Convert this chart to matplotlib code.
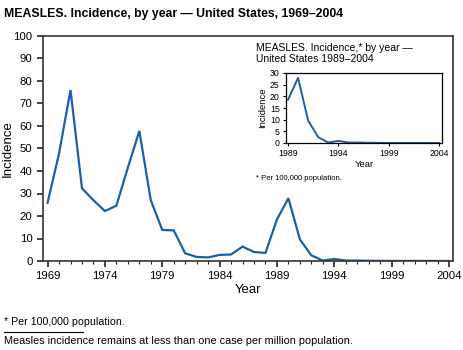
import matplotlib
matplotlib.use("Agg")
import matplotlib.pyplot as plt
from matplotlib.ticker import MultipleLocator

plt.rcParams['font.family'] = ['Liberation Sans', 'DejaVu Sans']

# data (incidence per 100,000)
years = list(range(1969, 2005))
incidence = [25.9, 47.8, 76.0, 32.3, 27.0, 22.2, 24.6, 41.5, 57.8, 27.0,
             13.8, 13.6, 3.4, 1.8, 1.6, 2.7, 2.9, 6.4, 4.0, 3.6,
             18.5, 27.9, 9.6, 2.5, 0.2, 0.9, 0.2, 0.2, 0.1, 0.04,
             0.04, 0.03, 0.04, 0.02, 0.02, 0.01]
inset_years = years[20:]
inset_incidence = incidence[20:]

blue = '#1b5fa8'
W, H = 464, 350

def box(l, t, r, b):
    return [l / W, 1 - b / H, (r - l) / W, (b - t) / H]

fig = plt.figure(figsize=(W / 100, H / 100), dpi=100)

# main chart
ax = fig.add_axes(box(43, 36, 453, 261))
ax.plot(years, incidence, color=blue, lw=1.6, solid_joinstyle='miter')
ax.set_xlim(1968.6, 2004.35)
ax.set_ylim(0, 100)
ax.xaxis.set_minor_locator(MultipleLocator(1))
ax.set_xticks(range(1969, 2005, 5))
ax.yaxis.set_major_locator(MultipleLocator(10))
ax.tick_params(axis='both', which='major', direction='out', length=4.5, width=1.2,
               labelsize=8.2, color='#222222', pad=3)
ax.tick_params(axis='x', which='minor', direction='out', length=2, width=0.8, color='#222222')
for s in ax.spines.values():
    s.set_linewidth(1.2)
    s.set_color('#333333')
ax.set_xlabel('Year', fontsize=9.5, labelpad=2)
ax.set_ylabel('Incidence', fontsize=9.5, va='center')
ax.yaxis.set_label_coords(-0.087, 0.5)

# inset chart
ins = fig.add_axes(box(286, 73, 442, 143))
ins.plot(inset_years, inset_incidence, color=blue, lw=1.4)
ins.set_xlim(1988.8, 2004.3)
ins.set_ylim(0, 30)
ins.set_xticks(range(1989, 2005, 5))
ins.set_yticks(range(0, 31, 5))
ins.tick_params(axis='both', direction='out', length=2.5, width=0.8, labelsize=6.3, pad=2)
for s in ins.spines.values():
    s.set_linewidth(0.9)
ins.set_xlabel('Year', fontsize=6.8, labelpad=1)
ins.set_ylabel('Incidence', fontsize=6.8, labelpad=2)

fig.text(256 / W, 1 - 43 / H, 'MEASLES. Incidence,* by year \u2014\nUnited States 1989\u20132004',
         fontsize=7.5, va='top', ha='left', linespacing=1.1)
fig.text(256 / W, 1 - 179 / H, '* Per 100,000 population.', fontsize=5.5, va='center', ha='left')

# title and footnotes
fig.text(4 / W, 1 - 14 / H, 'MEASLES. Incidence, by year \u2014 United States, 1969\u20132004',
         fontsize=8.8, fontweight='bold', va='center', ha='left')
fig.text(4 / W, 1 - 322 / H, '* Per 100,000 population.', fontsize=7.7, va='center', ha='left')
fig.add_artist(plt.Line2D([4 / W, 83 / W], [1 - 332 / H, 1 - 332 / H], color='black', lw=0.8))
fig.text(4 / W, 1 - 341 / H, 'Measles incidence remains at less than one case per million population.',
         fontsize=7.8, va='center', ha='left')

fig.savefig('out.png', dpi=100)
